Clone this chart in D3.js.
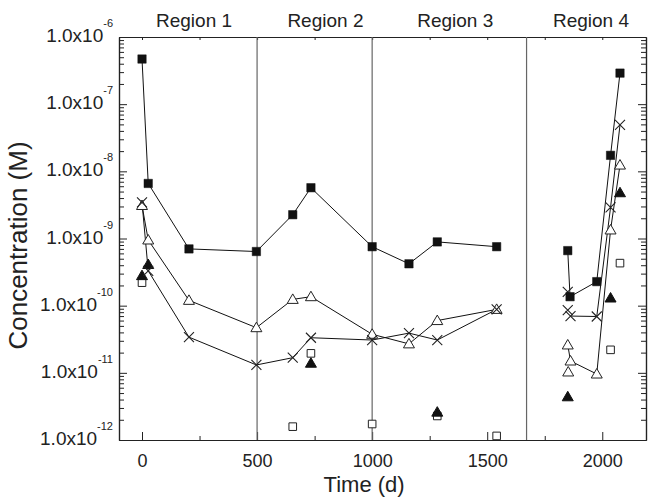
<!DOCTYPE html>
<html>
<head>
<meta charset="utf-8">
<script src="https://cdn.jsdelivr.net/npm/d3@7"></script>
<style>
  body { margin: 0; background: #fff; }
  text { font-family: Arial, "Liberation Sans", sans-serif; fill: #222; }
</style>
</head>
<body>
<div id="chart"></div>
<script>
// filled squares, connected (regions 1-3, then region 4)
var squaresA = [[0, 4.7e-7], [27, 6.6e-9], [204, 7.0e-10], [497, 6.4e-10], [655, 2.26e-9],
  [734, 5.7e-9], [1000, 7.55e-10], [1160, 4.2e-10], [1283, 8.9e-10], [1541, 7.55e-10]];
var squaresB = [[1850, 6.6e-10], [1860, 1.36e-10], [1976, 2.28e-10], [2036, 1.73e-8], [2077, 2.9e-7]];

// open triangles, connected
var trianglesA = [[0, 3.1e-9], [27, 9.5e-10], [204, 1.2e-10], [497, 4.7e-11], [655, 1.24e-10],
  [734, 1.36e-10], [1000, 3.75e-11], [1160, 2.7e-11], [1283, 6.0e-11], [1541, 8.8e-11]];
var trianglesB = [[1850, 2.6e-11], [1862, 1.5e-11], [1976, 9.6e-12], [2036, 1.34e-9], [2077, 1.24e-8]];
var trianglesExtra = [[1852, 1.03e-11]];

// crosses, connected
var crossesA = [[0, 3.45e-9], [27, 3.3e-10], [204, 3.4e-11], [497, 1.31e-11], [655, 1.68e-11],
  [734, 3.33e-11], [1000, 3.08e-11], [1160, 3.9e-11], [1283, 3.08e-11], [1541, 8.8e-11]];
var crossesB = [[1862, 7.0e-11], [1976, 6.9e-11], [2036, 2.9e-9], [2077, 4.9e-8]];
var crossesExtra = [[1850, 1.6e-10], [1850, 8.6e-11]];

// unconnected points
var filledTriangles = [[0, 2.8e-10], [27, 4.1e-10], [734, 1.39e-11], [1283, 2.6e-12],
  [1850, 4.4e-12], [2036, 1.3e-10], [2077, 4.8e-9]];
var openSquares = [[0, 2.2e-10], [655, 1.58e-12], [734, 1.95e-11], [1000, 1.73e-12],
  [1283, 2.28e-12], [1541, 1.15e-12], [2036, 2.2e-11], [2077, 4.3e-10]];

var regionBounds = [500, 1000, 1671];
var regionNames = ["Region 1", "Region 2", "Region 3", "Region 4"];
var regionCenters = [226, 797, 1361, 1951];

var xMajor = [0, 500, 1000, 1500, 2000];
var xMinor = [250, 750, 1250, 1750];
var yDecades = [1e-12, 1e-11, 1e-10, 1e-9, 1e-8, 1e-7, 1e-6];

var margin = {top: 37, right: 2, bottom: 60, left: 119},
  width = 648 - margin.left - margin.right,
  height = 500 - margin.top - margin.bottom;

var svg = d3.select("#chart")
  .append("svg")
  .attr("width", width + margin.left + margin.right)
  .attr("height", height + margin.top + margin.bottom)
  .append("g")
  .attr("transform", "translate(" + margin.left + "," + margin.top + ")");

var x = d3.scaleLinear().domain([-100, 2190]).range([0, width]);
var y = d3.scaleLog().domain([1e-12, 1e-6]).range([height, 0]);

var yMinor = [];
yDecades.slice(0, -1).forEach(function(d) {
  for (var m = 2; m <= 9; m++) yMinor.push(d * m);
});

function styleAxis(g) {
  g.selectAll("path.domain").attr("stroke", "#222").attr("stroke-width", 1.2);
  g.selectAll(".tick line").attr("stroke", "#222");
}

// bottom
svg.append("g").attr("transform", "translate(0," + height + ")")
  .call(d3.axisBottom(x).tickValues(xMajor).tickSize(-8).tickSizeOuter(0).tickPadding(14)
    .tickFormat(d3.format("d")))
  .call(styleAxis)
  .selectAll("text").attr("font-size", 18).attr("fill", "#222");
svg.append("g").attr("transform", "translate(0," + height + ")")
  .call(d3.axisBottom(x).tickValues(xMinor).tickSize(-4).tickSizeOuter(0).tickFormat(""))
  .call(styleAxis);

// top
svg.append("g")
  .call(d3.axisTop(x).tickValues(xMajor.concat(xMinor)).tickSize(-3).tickSizeOuter(0).tickFormat(""))
  .call(styleAxis);

// left + right
[[d3.axisLeft, 0], [d3.axisRight, width]].forEach(function(a) {
  svg.append("g").attr("transform", "translate(" + a[1] + ",0)")
    .call(a[0](y).tickValues(yDecades).tickSize(-8).tickSizeOuter(0).tickFormat(""))
    .call(styleAxis);
  svg.append("g").attr("transform", "translate(" + a[1] + ",0)")
    .call(a[0](y).tickValues(yMinor).tickSize(-5).tickSizeOuter(0).tickFormat(""))
    .call(styleAxis);
});

// y tick labels 1.0x10^n
var yLab = svg.append("g").selectAll("text")
  .data(yDecades)
  .enter().append("text")
  .attr("x", -6)
  .attr("y", function(d) { return y(d) + 5; })
  .attr("text-anchor", "end")
  .attr("font-size", 19);
yLab.append("tspan").text("1.0x10");
yLab.append("tspan")
  .attr("dy", -15)
  .attr("font-size", 11)
  .text(function(d) { return Math.round(Math.log10(d)); });

// region separators
svg.append("g").selectAll("line")
  .data(regionBounds)
  .enter().append("line")
  .attr("x1", function(d) { return x(d); })
  .attr("x2", function(d) { return x(d); })
  .attr("y1", 0).attr("y2", height)
  .attr("stroke", "#666")
  .attr("stroke-width", 1.2);

svg.append("g").selectAll("text")
  .data(regionNames)
  .enter().append("text")
  .attr("x", function(d, i) { return x(regionCenters[i]); })
  .attr("y", -10)
  .attr("text-anchor", "middle")
  .attr("font-size", 19)
  .text(function(d) { return d; });

// axis titles
svg.append("text")
  .attr("x", x(1000) - 8)
  .attr("y", height + 52)
  .attr("text-anchor", "middle")
  .attr("font-size", 22)
  .text("Time (d)");

svg.append("text")
  .attr("transform", "translate(" + (27 - margin.left) + "," + (height / 2 + 7) + ") rotate(-90)")
  .attr("text-anchor", "middle")
  .attr("font-size", 26)
  .text("Concentration (M)");

// lines
var line = d3.line()
  .x(function(d) { return x(d[0]); })
  .y(function(d) { return y(d[1]); });

[squaresA, squaresB, trianglesA, trianglesB, crossesA, crossesB].forEach(function(s) {
  svg.append("path")
    .datum(s)
    .attr("d", line)
    .attr("fill", "none")
    .attr("stroke", "#111")
    .attr("stroke-width", 1);
});

// markers
var tri = "M0,-5.5L5.5,4L-5.5,4Z";
var sq = "M-4.2,-4.2H4.2V4.2H-4.2Z";
var sqOpen = "M-3.8,-3.8H3.8V3.8H-3.8Z";
var cross = "M-5,-5L5,5M-5,5L5,-5";

function drawMarkers(data, shape, fill, stroke, sw) {
  svg.append("g").selectAll("path")
    .data(data)
    .enter().append("path")
    .attr("d", shape)
    .attr("transform", function(d) { return "translate(" + x(d[0]) + "," + y(d[1]) + ")"; })
    .attr("fill", fill)
    .attr("stroke", stroke)
    .attr("stroke-width", sw);
}

drawMarkers(openSquares, sqOpen, "#fff", "#222", 1);
drawMarkers(filledTriangles, tri, "#111", "#111", 1);
drawMarkers(trianglesA.concat(trianglesB, trianglesExtra), tri, "#fff", "#222", 1);
drawMarkers(crossesA.concat(crossesB, crossesExtra), cross, "none", "#222", 1.1);
drawMarkers(squaresA.concat(squaresB), sq, "#111", "#111", 0.5);
</script>
</body>
</html>
